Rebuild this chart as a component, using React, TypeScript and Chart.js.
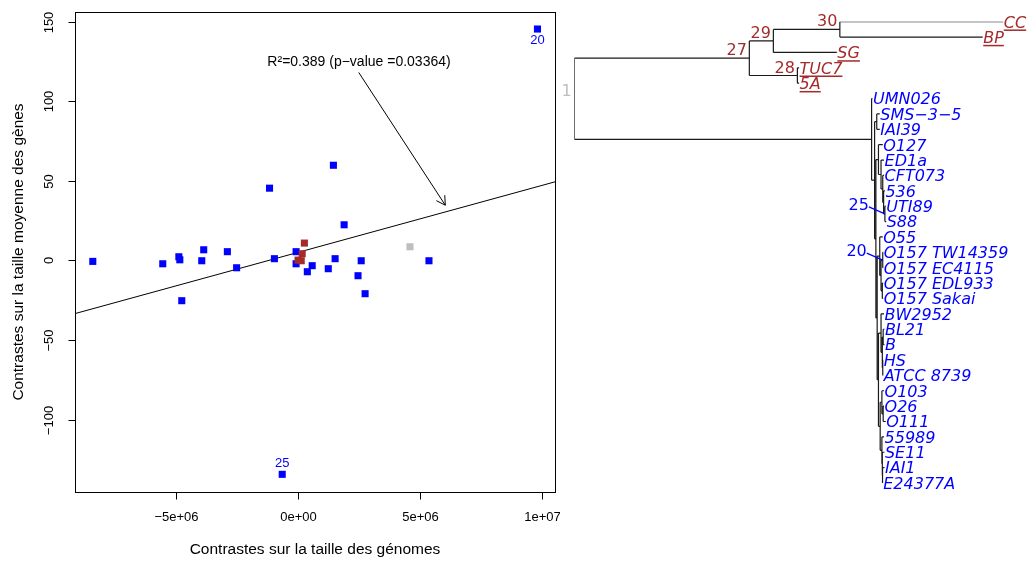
import { useEffect, useRef } from 'react';
import { Chart, registerables } from 'chart.js';

Chart.register(...registerables);

// ---------------- Scatter data (contrasts) ----------------
const BLUE_X = [-8.42e6, -5.55e6, -4.89e6, -4.85e6, -4.77e6, -3.87e6, -3.95e6, -2.9e6, -2.52e6, -1.17e6, -0.97e6, -0.65e6, -0.08e6, -0.08e6, 0.58e6, 0.38e6, 1.52e6, 1.24e6, 1.89e6, 2.59e6, 2.46e6, 2.75e6, 5.37e6, 1.45e6, 9.82e6];
const BLUE_Y = [-0.6, -2.1, 2.3, 0.4, -25.3, 6.7, -0.2, 5.5, -4.6, 45.4, 1.1, -134.4, 5.5, -2.1, -3.3, -7.1, 1.1, -5.2, 22.4, -0.2, -9.6, -20.9, -0.2, 59.8, 145.4];
const RED_X = [0.26e6, 0.17e6, 0.0, 0.13e6];
const RED_Y = [10.9, 4.2, 0.2, -0.2];
const GRAY_X = [4.59e6];
const GRAY_Y = [8.6];

const X_RANGE = [-9.15e6, 1.054e7];
const Y_RANGE = [-145.5, 156.1];
const X_TICKS = [-5e6, 0, 5e6, 1e7];
const X_TICK_LABELS = ['\u22125e+06', '0e+00', '5e+06', '1e+07'];
const Y_TICKS = [-100, -50, 0, 50, 100, 150];
const Y_TICK_LABELS = ['\u2212100', '\u221250', '0', '50', '100', '150'];
const X_TITLE = 'Contrastes sur la taille des génomes';
const Y_TITLE = 'Contrastes sur la taille moyenne des gènes';

const FIT_INTERCEPT = 5.07;
const FIT_SLOPE = 4.205e-6;
const ANNOT_TEXT = 'R\u00B2=0.389 (p\u2212value =0.03364)';
const ANNOT_TEXT_AT = [2.5e6, 124.8];
const ANNOT_FROM = [2.49e6, 118.1];
const ANNOT_TO = [6.04e6, 34.7];

const POINT_TAGS = ['20', '25'];
const POINT_TAG_X = [9.82e6, -0.65e6];
const POINT_TAG_Y = [145.4, -134.4];
const POINT_TAG_BELOW = [true, false];

// ---------------- Tree data ----------------
const TIP_LABELS = ['CC', 'BP', 'SG', 'TUC7', '5A', 'UMN026', 'SMS\u22123\u22125', 'IAI39', 'O127', 'ED1a', 'CFT073', '536', 'UTI89', 'S88', 'O55', 'O157 TW14359', 'O157 EC4115', 'O157 EDL933', 'O157 Sakai', 'BW2952', 'BL21', 'B', 'HS', 'ATCC 8739', 'O103', 'O26', 'O111', '55989', 'SE11', 'IAI1', 'E24377A'];
const TIP_DEPTHS = [100, 95.2, 61.2, 52.4, 52.4, 69.5, 71.2, 71.2, 71.9, 72.2, 72.2, 72.4, 72.6, 72.7, 71.9, 72.0, 72.0, 72.0, 72.0, 72.2, 72.3, 72.3, 72.0, 72.0, 72.2, 72.2, 72.6, 72.2, 72.3, 72.3, 71.9];
const RED_TIPS = ['CC', 'BP', 'SG', 'TUC7', '5A'];

const NODE_NAMES = ['n1', 'n27', 'n29', 'n30', 'n28', 'b0', 'bX', 'bD1', 'bQ', 'bBB2', 'bC1', 'bC2', 'bC3', 'n25', 'bB3', 'bE', 'bE1', 'n20', 'bE2', 'bAB', 'bA', 'bA1', 'bA2', 'bA3', 'bBB1', 'bF1', 'bF1b', 'bF2', 'bF2b', 'bF2c'];
const NODE_DEPTHS = [0, 40.8, 46.4, 61.9, 52.0, 69.3, 70.0, 70.5, 70.3, 70.9, 71.5, 71.9, 72.1, 72.4, 70.6, 71.2, 71.5, 71.9, 71.8, 70.9, 71.5, 71.8, 72.0, 71.9, 71.3, 71.7, 72.0, 71.7, 71.8, 71.85];
const NODE_CHILDREN = [
  ['n27', 'b0'],
  ['n29', 'n28'],
  ['n30', 'SG'],
  ['CC', 'BP'],
  ['TUC7', '5A'],
  ['UMN026', 'bX'],
  ['bD1', 'bQ'],
  ['SMS\u22123\u22125', 'IAI39'],
  ['bBB2', 'bB3'],
  ['O127', 'bC1'],
  ['ED1a', 'bC2'],
  ['CFT073', 'bC3'],
  ['536', 'n25'],
  ['UTI89', 'S88'],
  ['bE', 'bAB'],
  ['O55', 'bE1'],
  ['n20', 'bE2'],
  ['O157 TW14359', 'O157 EC4115'],
  ['O157 EDL933', 'O157 Sakai'],
  ['bA', 'bBB1'],
  ['BW2952', 'bA1'],
  ['bA2', 'bA3'],
  ['BL21', 'B'],
  ['HS', 'ATCC 8739'],
  ['bF1', 'bF2'],
  ['O103', 'bF1b'],
  ['O26', 'O111'],
  ['55989', 'bF2b'],
  ['SE11', 'bF2c'],
  ['IAI1', 'E24377A'],
];
const TAGGED_NODES = ['n1', 'n27', 'n28', 'n29', 'n30', 'n25', 'n20'];
const TAG_TEXTS = ['1', '27', '28', '29', '30', '25', '20'];
const TAG_STYLE = ['root', 'red', 'red', 'red', 'red', 'blue', 'blue'];

const BLUE = '#0000FF';
const BROWN = '#A52A2A';
const GRAY = '#BEBEBE';
const SFONT = '"Liberation Sans", Arial, sans-serif';
const TFONT = '"DejaVu Sans", sans-serif';

// tree layout (positions in data units: depth & tip index)
function layoutTree() {
  const pos: Record<string, { d: number; y: number }> = {};
  TIP_LABELS.forEach((t, i) => { pos[t] = { d: TIP_DEPTHS[i], y: i }; });
  const idx: Record<string, number> = {};
  NODE_NAMES.forEach((n, i) => { idx[n] = i; });
  const resolve = (name: string): { d: number; y: number } => {
    if (pos[name]) return pos[name];
    const i = idx[name];
    const kids = NODE_CHILDREN[i].map(resolve);
    const y = kids.reduce((s, k) => s + k.y, 0) / kids.length;
    pos[name] = { d: NODE_DEPTHS[i], y };
    return pos[name];
  };
  NODE_NAMES.forEach(resolve);
  const segs: { x: number; y: number | null }[] = [];
  NODE_NAMES.forEach((n, i) => {
    const p = pos[n];
    const kids = NODE_CHILDREN[i].map((c) => pos[c]);
    const ys = kids.map((k) => k.y);
    segs.push({ x: p.d, y: Math.min(...ys) }, { x: p.d, y: Math.max(...ys) }, { x: p.d, y: null });
    kids.forEach((k) => {
      segs.push({ x: p.d, y: k.y }, { x: k.d, y: k.y }, { x: k.d, y: null });
    });
  });
  return { pos, segs };
}

const scatterPlugin = {
  id: 'rStyle',
  afterDraw(chart: any) {
    const { ctx, chartArea: ca } = chart;
    const sx = chart.scales.x;
    const sy = chart.scales.y;
    ctx.save();
    ctx.strokeStyle = '#000';
    ctx.fillStyle = '#000';
    ctx.lineWidth = 1;
    const L = Math.round(ca.left) + 0.5;
    const T = Math.round(ca.top) + 0.5;
    const R = Math.round(ca.right) + 0.5;
    const B = Math.round(ca.bottom) + 0.5;
    ctx.strokeRect(L, T, R - L, B - T);
    const line = (a: number, b: number, c: number, d: number) => {
      ctx.beginPath(); ctx.moveTo(a, b); ctx.lineTo(c, d); ctx.stroke();
    };
    ctx.font = `13px ${SFONT}`;
    ctx.textAlign = 'center';
    ctx.textBaseline = 'middle';
    X_TICKS.forEach((v, i) => {
      const px = Math.round(sx.getPixelForValue(v)) + 0.5;
      line(px, B, px, B + 7);
      ctx.fillText(X_TICK_LABELS[i], px, B + 25);
    });
    Y_TICKS.forEach((v, i) => {
      const py = Math.round(sy.getPixelForValue(v)) + 0.5;
      line(L - 7, py, L, py);
      ctx.save();
      ctx.translate(L - 26, py);
      ctx.rotate(-Math.PI / 2);
      ctx.fillText(Y_TICK_LABELS[i], 0, 0);
      ctx.restore();
    });
    ctx.font = `15.5px ${SFONT}`;
    ctx.fillText(X_TITLE, (ca.left + ca.right) / 2, B + 57);
    ctx.save();
    ctx.translate(L - 57, (ca.top + ca.bottom) / 2);
    ctx.rotate(-Math.PI / 2);
    ctx.fillText(Y_TITLE, 0, 0);
    ctx.restore();

    // annotation
    ctx.font = `14px ${SFONT}`;
    ctx.fillText(ANNOT_TEXT, sx.getPixelForValue(ANNOT_TEXT_AT[0]), sy.getPixelForValue(ANNOT_TEXT_AT[1]));
    const x0 = sx.getPixelForValue(ANNOT_FROM[0]);
    const y0 = sy.getPixelForValue(ANNOT_FROM[1]);
    const x1 = sx.getPixelForValue(ANNOT_TO[0]);
    const y1 = sy.getPixelForValue(ANNOT_TO[1]);
    line(x0, y0, x1, y1);
    const ang = Math.atan2(y1 - y0, x1 - x0);
    const hl = 10;
    ctx.beginPath();
    ctx.moveTo(x1 - hl * Math.cos(ang - Math.PI / 6), y1 - hl * Math.sin(ang - Math.PI / 6));
    ctx.lineTo(x1, y1);
    ctx.lineTo(x1 - hl * Math.cos(ang + Math.PI / 6), y1 - hl * Math.sin(ang + Math.PI / 6));
    ctx.stroke();

    // point tags
    ctx.fillStyle = BLUE;
    ctx.font = `13px ${SFONT}`;
    POINT_TAGS.forEach((t, i) => {
      const px = sx.getPixelForValue(POINT_TAG_X[i]);
      const py = sy.getPixelForValue(POINT_TAG_Y[i]);
      ctx.fillText(t, px, py + (POINT_TAG_BELOW[i] ? 11.5 : -10.5));
    });
    ctx.restore();
  },
};

function makeTreePlugin(pos: Record<string, { d: number; y: number }>) {
  return {
    id: 'treeLabels',
    afterDatasetsDraw(chart: any) {
      const { ctx } = chart;
      const sx = chart.scales.x;
      const sy = chart.scales.y;
      ctx.save();
      ctx.textAlign = 'left';
      ctx.textBaseline = 'alphabetic';
      ctx.font = `italic 16px ${TFONT}`;
      TIP_LABELS.forEach((name, i) => {
        const px = sx.getPixelForValue(TIP_DEPTHS[i]) + 0.5;
        const py = sy.getPixelForValue(i);
        const red = RED_TIPS.includes(name);
        ctx.fillStyle = red ? BROWN : BLUE;
        ctx.fillText(name, px, py + 5.8);
        if (red) {
          const w = ctx.measureText(name).width;
          ctx.strokeStyle = BROWN;
          ctx.lineWidth = 1.5;
          ctx.beginPath();
          ctx.moveTo(px, py + 8.5);
          ctx.lineTo(px + w, py + 8.5);
          ctx.stroke();
        }
      });
      ctx.font = `16px ${TFONT}`;
      ctx.textAlign = 'right';
      TAGGED_NODES.forEach((n, i) => {
        const p = pos[n];
        const px = sx.getPixelForValue(p.d);
        const py = sy.getPixelForValue(p.y);
        const style = TAG_STYLE[i];
        if (style === 'blue') {
          ctx.fillStyle = BLUE;
          ctx.strokeStyle = BLUE;
          ctx.lineWidth = 1.3;
          ctx.fillText(TAG_TEXTS[i], px - 16, py - 4.2);
          ctx.beginPath();
          ctx.moveTo(px - 16, py - 7);
          ctx.lineTo(px, py);
          ctx.stroke();
        } else {
          ctx.fillStyle = style === 'root' ? GRAY : BROWN;
          ctx.fillText(TAG_TEXTS[i], px - 2.5, py - 3);
        }
      });
      ctx.restore();
    },
  };
}

export default function App() {
  const scatterRef = useRef<HTMLCanvasElement>(null);
  const treeRef = useRef<HTMLCanvasElement>(null);

  useEffect(() => {
    const pts = (xs: number[], ys: number[]) => xs.map((x, i) => ({ x, y: ys[i] }));
    const sq = { pointStyle: 'rect', pointRadius: 5, borderWidth: 0, pointHoverRadius: 5 };
    const c1 = new Chart(scatterRef.current as HTMLCanvasElement, {
      type: 'scatter',
      data: {
        datasets: [
          { label: 'red', data: pts(RED_X, RED_Y), backgroundColor: BROWN, order: 0, ...sq } as any,
          { label: 'gray', data: pts(GRAY_X, GRAY_Y), backgroundColor: GRAY, order: 1, ...sq } as any,
          { label: 'blue', data: pts(BLUE_X, BLUE_Y), backgroundColor: BLUE, order: 2, ...sq } as any,
          {
            label: 'fit',
            data: X_RANGE.map((x) => ({ x, y: FIT_INTERCEPT + FIT_SLOPE * x })),
            showLine: true,
            borderColor: '#000',
            borderWidth: 1,
            pointRadius: 0,
            order: 3,
          } as any,
        ],
      },
      options: {
        animation: false,
        responsive: false,
        devicePixelRatio: 1,
        events: [],
        layout: { padding: { left: 75, top: 12, right: 3, bottom: 69 } },
        plugins: { legend: { display: false }, tooltip: { enabled: false } },
        scales: {
          x: { type: 'linear', display: false, min: X_RANGE[0], max: X_RANGE[1] },
          y: { type: 'linear', display: false, min: Y_RANGE[0], max: Y_RANGE[1] },
        },
      } as any,
      plugins: [scatterPlugin],
    });

    const { pos, segs } = layoutTree();
    const c2 = new Chart(treeRef.current as HTMLCanvasElement, {
      type: 'scatter',
      data: {
        datasets: [
          {
            label: 'tree',
            data: segs as any,
            showLine: true,
            spanGaps: false,
            borderColor: '#1a1a1a',
            borderWidth: 1.2,
            pointRadius: 0,
          } as any,
        ],
      },
      options: {
        animation: false,
        responsive: false,
        devicePixelRatio: 1,
        events: [],
        layout: { padding: { left: 14.3, top: 21.7, right: 23.7, bottom: 78 } },
        plugins: { legend: { display: false }, tooltip: { enabled: false } },
        scales: {
          x: { type: 'linear', display: false, min: 0, max: 100 },
          y: { type: 'linear', display: false, min: 0, max: TIP_LABELS.length - 1, reverse: true },
        },
      } as any,
      plugins: [makeTreePlugin(pos)],
    });

    return () => {
      c1.destroy();
      c2.destroy();
    };
  }, []);

  return (
    <div style={{ position: 'absolute', left: 0, top: 0, width: 1027, height: 561, background: '#fff', overflow: 'hidden' }}>
      <canvas ref={scatterRef} width={560} height={561} style={{ position: 'absolute', left: 0, top: 0, width: 560, height: 561 }} />
      <canvas ref={treeRef} width={467} height={561} style={{ position: 'absolute', left: 560, top: 0, width: 467, height: 561 }} />
    </div>
  );
}
